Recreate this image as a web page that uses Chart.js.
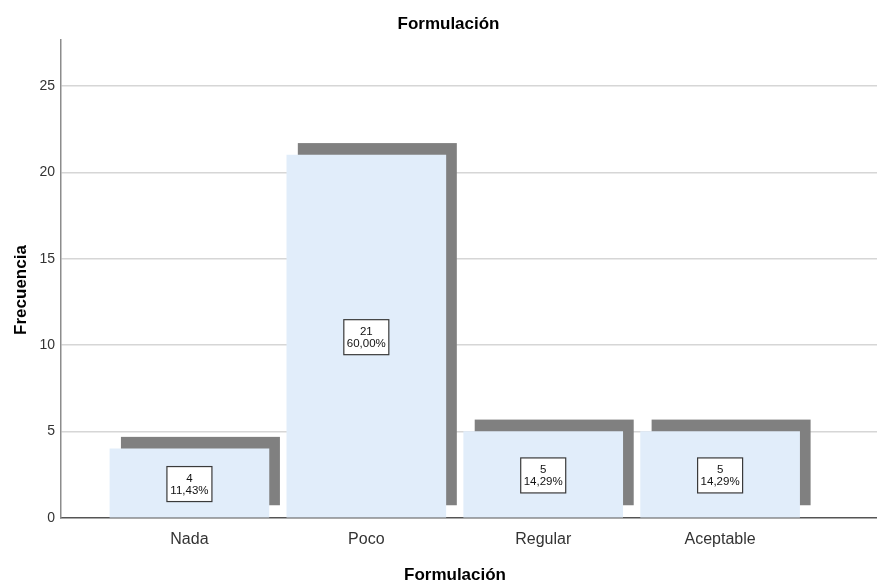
<!DOCTYPE html>
<html>
<head>
<meta charset="utf-8">
<script src="https://cdn.jsdelivr.net/npm/chart.js@4"></script>
<style>
  html, body { margin: 0; padding: 0; overflow: hidden; background: #fff; }
  canvas { display: block; }
</style>
</head>
<body>
<canvas id="c" width="897" height="586"></canvas>
<script>
const categories = ['Nada', 'Poco', 'Regular', 'Aceptable'];
const frequencies = [4, 21, 5, 5];
const percentLabels = ['11,43%', '60,00%', '14,29%', '14,29%'];
const yTickValues = [0, 5, 10, 15, 20, 25];
const chartTitle = 'Formulación';
const xAxisTitle = 'Formulación';
const yAxisTitle = 'Frecuencia';

const FONT = '"Liberation Sans", Arial, sans-serif';
const NARROW = '"Liberation Sans Narrow", "Liberation Sans", Arial, sans-serif';

const shadowPlugin = {
  id: 'barShadow',
  beforeDatasetsDraw(chart) {
    const ctx = chart.ctx;
    const meta = chart.getDatasetMeta(0);
    ctx.save();
    ctx.fillStyle = '#808080';
    meta.data.forEach(el => {
      const p = el.getProps(['x', 'y', 'base', 'width'], true);
      ctx.fillRect(p.x - p.width / 2 + 11, p.y - 12, p.width, p.base - p.y);
    });
    ctx.restore();
  }
};

const labelPlugin = {
  id: 'boxLabels',
  afterDatasetsDraw(chart) {
    const ctx = chart.ctx;
    const meta = chart.getDatasetMeta(0);
    ctx.save();
    meta.data.forEach((el, i) => {
      const p = el.getProps(['x', 'y', 'base'], true);
      const cx = p.x;
      const cy = (p.y + p.base) / 2 + 1;
      const w = 45, h = 35;
      ctx.fillStyle = '#ffffff';
      ctx.fillRect(cx - w / 2, cy - h / 2, w, h);
      ctx.strokeStyle = '#3a3a3a';
      ctx.lineWidth = 1.2;
      ctx.strokeRect(cx - w / 2, cy - h / 2, w, h);
      ctx.fillStyle = '#111';
      ctx.font = '11.5px ' + FONT;
      ctx.textAlign = 'center';
      ctx.textBaseline = 'middle';
      ctx.fillText(String(frequencies[i]), cx, cy - 5.5);
      ctx.fillText(percentLabels[i], cx, cy + 6.5);
    });
    ctx.restore();
  }
};

const axisTitlePlugin = {
  id: 'axisTitles',
  afterDraw(chart) {
    const ctx = chart.ctx;
    ctx.save();
    ctx.fillStyle = '#000';
    ctx.font = 'bold 17px ' + FONT;
    ctx.textAlign = 'center';
    ctx.textBaseline = 'middle';
    ctx.fillText(xAxisTitle, 455, 575);
    ctx.translate(21, 290);
    ctx.rotate(-Math.PI / 2);
    ctx.fillText(yAxisTitle, 0, 0);
    ctx.restore();
  }
};

new Chart(document.getElementById('c'), {
  type: 'bar',
  data: {
    datasets: [{
      data: categories.map((c, i) => ({ x: i, y: frequencies[i] })),
      backgroundColor: '#e1edfa',
      borderWidth: 0,
      barThickness: 159
    }]
  },
  plugins: [shadowPlugin, labelPlugin, axisTitlePlugin],
  options: {
    responsive: false,
    animation: false,
    devicePixelRatio: 1,
    layout: { padding: 0 },
    plugins: {
      legend: { display: false },
      tooltip: { enabled: false },
      title: {
        display: true,
        text: chartTitle,
        color: '#000',
        font: { family: FONT, size: 17, weight: 'bold' },
        padding: { top: 14, bottom: 5.6 }
      }
    },
    scales: {
      x: {
        type: 'linear',
        min: -0.726,
        max: 4.0,
        offset: false,
        afterFit(scale) { scale.height = 68; },
        afterBuildTicks(scale) { scale.ticks = categories.map((c, i) => ({ value: i })); },
        grid: { display: false, drawTicks: false },
        border: { display: true, color: '#555555', width: 1.5 },
        ticks: {
          padding: 12,
          color: '#333',
          font: { family: FONT, size: 16 },
          maxRotation: 0,
          autoSkip: false,
          callback: (v) => categories[v]
        }
      },
      y: {
        min: 0,
        max: 27.66,
        afterFit(scale) { scale.width = 61; },
        afterBuildTicks(scale) { scale.ticks = yTickValues.map(v => ({ value: v })); },
        grid: {
          drawTicks: false,
          lineWidth: 1.5,
          color: (c) => (c.tick && c.tick.value === 0) ? 'rgba(0,0,0,0)' : '#d6d6d6'
        },
        border: { display: true, color: '#8c8c8c', width: 1.5 },
        ticks: {
          padding: 6,
          color: '#333',
          font: { family: NARROW, size: 14 },
          callback: (v) => String(v)
        }
      }
    }
  }
});
</script>
</body>
</html>
